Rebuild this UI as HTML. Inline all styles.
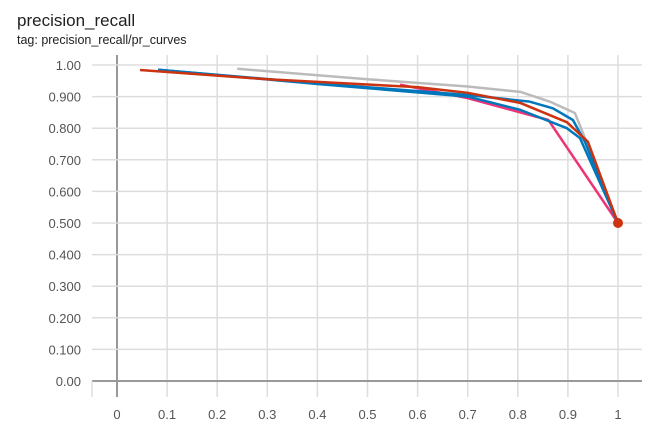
<!DOCTYPE html>
<html><head><meta charset="utf-8"><style>
body{margin:0;background:#fff;width:671px;height:431px;overflow:hidden;font-family:"Liberation Sans",sans-serif}
.t{position:absolute;left:17px;top:11px;font-size:17px;color:#212121}
.s{position:absolute;left:17px;top:33px;font-size:12.5px;color:#212121}
</style></head><body>
<div class="t">precision_recall</div>
<div class="s">tag: precision_recall/pr_curves</div>
<svg id="c" width="671" height="431" style="position:absolute;left:0;top:0"></svg>
<script>
const xTicks=[0,0.1,0.2,0.3,0.4,0.5,0.6,0.7,0.8,0.9,1];
const xTickLabels=["0","0.1","0.2","0.3","0.4","0.5","0.6","0.7","0.8","0.9","1"];
const yTicks=[0,0.1,0.2,0.3,0.4,0.5,0.6,0.7,0.8,0.9,1];
const yTickLabels=["0.00","0.100","0.200","0.300","0.400","0.500","0.600","0.700","0.800","0.900","1.00"];
const grayRecall=[0.24,0.5,0.7,0.805,0.864,0.914,0.93,1];
const grayPrecision=[0.988,0.955,0.932,0.915,0.884,0.848,0.785,0.5];
const pinkRecall=[0.565,0.7,0.861,1];
const pinkPrecision=[0.938,0.895,0.826,0.5];
const blue2Recall=[0.082,0.4,0.7,0.805,0.898,0.924,1];
const blue2Precision=[0.985,0.94,0.9,0.858,0.8,0.769,0.5];
const blue1Recall=[0.082,0.4,0.7,0.824,0.87,0.91,0.934,1];
const blue1Precision=[0.985,0.942,0.905,0.884,0.863,0.826,0.757,0.5];
const orangeRecall=[0.046,0.3,0.6,0.7,0.805,0.898,0.94,1];
const orangePrecision=[0.984,0.955,0.93,0.912,0.88,0.819,0.757,0.5];
const sx=v=>117+v*501, sy=v=>381-v*316;
const svg=document.getElementById('c'),NS="http://www.w3.org/2000/svg";
function mk(t,a){const e=document.createElementNS(NS,t);for(const k in a)e.setAttribute(k,a[k]);svg.appendChild(e);return e;}
xTicks.forEach((v,i)=>{
 const l=mk('line',{x1:sx(v),x2:sx(v),y1:55,y2:397,stroke:v===0?'#999':'#ddd','stroke-width':v===0?2:1.5});
 
 
 const t=mk('text',{x:sx(v),y:419,'text-anchor':'middle','font-size':13,fill:'#555','font-family':'Liberation Sans, sans-serif'});
 t.textContent=xTickLabels[i];
 
 
});
yTicks.forEach((v,i)=>{
 const l=mk('line',{x1:92,x2:642,y1:sy(v),y2:sy(v),stroke:v===0?'#999':'#ddd','stroke-width':v===0?2:1.5});
 
 
 const t=mk('text',{x:81,y:sy(v)+5,'text-anchor':'end','font-size':13,fill:'#555','font-family':'Liberation Sans, sans-serif'});
 t.textContent=yTickLabels[i];
 
 
});
mk('line',{x1:92,x2:92,y1:381,y2:397,stroke:'#ddd','stroke-width':1.5});
function series(xs,ys,col,name){
 const p=mk('polyline',{points:xs.map((x,i)=>sx(x)+','+sy(ys[i])).join(' '),fill:'none',stroke:col,'stroke-width':2.5,'stroke-linejoin':'round'});
 
 
}
series(grayRecall,grayPrecision,'#bbbbbb','series-gray');
series(pinkRecall,pinkPrecision,'#ee3377','series-pink');
series(blue2Recall,blue2Precision,'#0077bb','series-blue-2');
series(blue1Recall,blue1Precision,'#0077bb','series-blue-1');
series(orangeRecall,orangePrecision,'#cc3311','series-orange');
const d=mk('circle',{cx:sx(orangeRecall[orangeRecall.length-1]),cy:sy(orangePrecision[orangePrecision.length-1]),r:5,fill:'#cc3311'});


</script>
</body></html>
